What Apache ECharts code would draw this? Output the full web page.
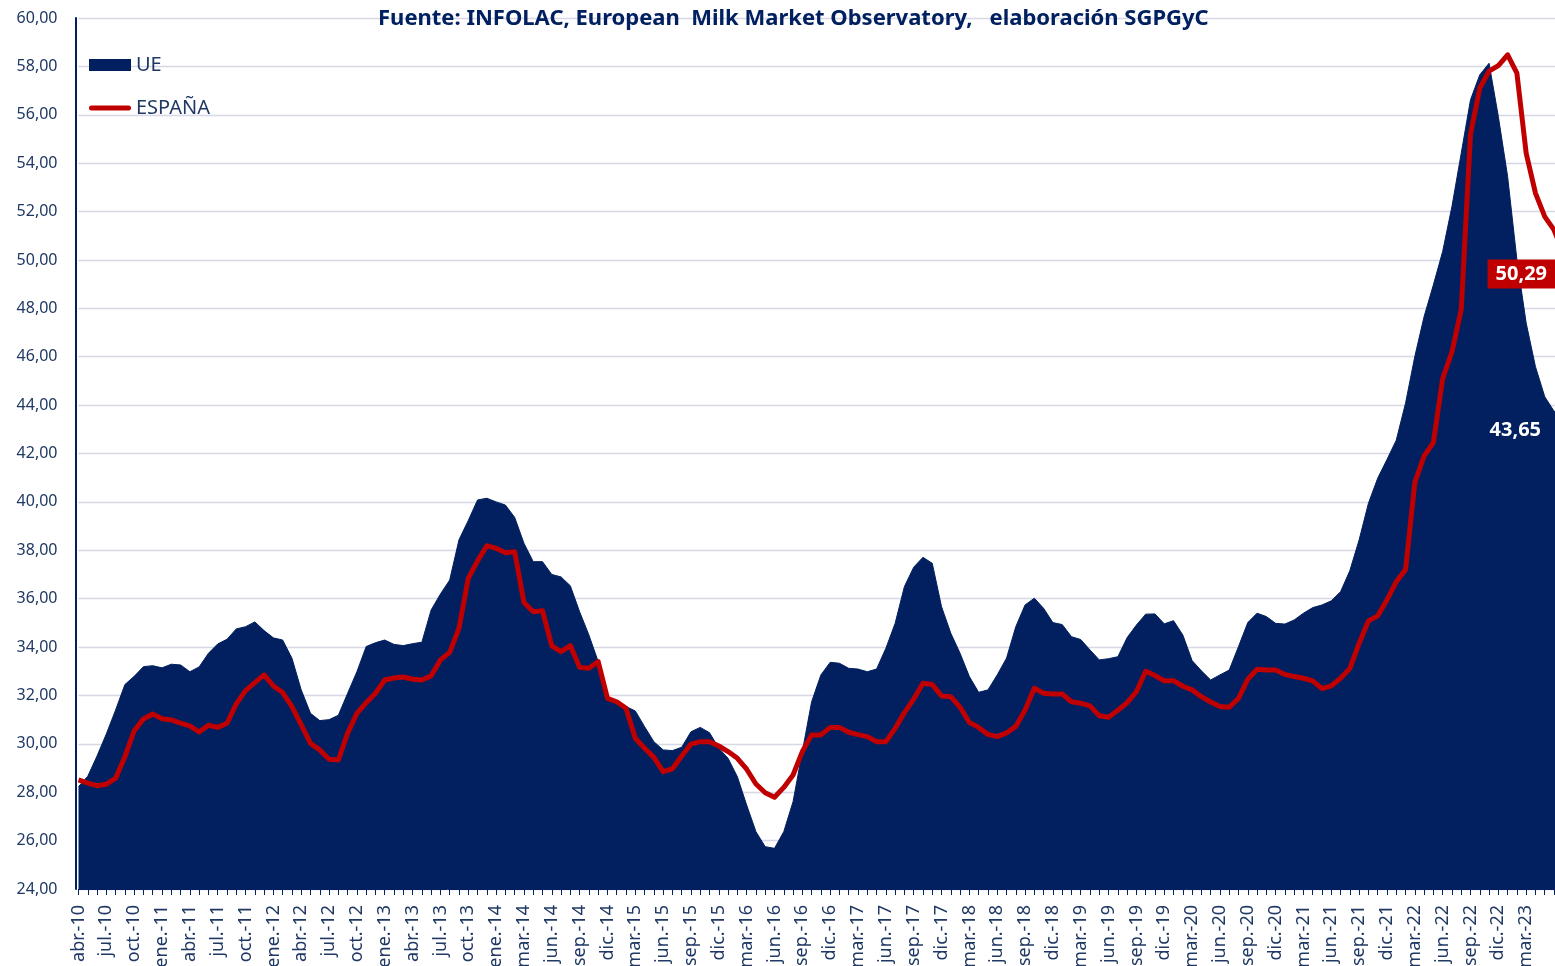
<!DOCTYPE html>
<html>
<head>
<meta charset="utf-8">
<script src="https://cdn.jsdelivr.net/npm/echarts@6/dist/echarts.min.js"></script>
<style>
html,body{margin:0;padding:0;background:#ffffff;overflow:hidden;}
#chart{width:1555px;height:966px;}
</style>
</head>
<body>
<div id="chart"></div>
<script>
// ---- categories (monthly, abr.-10 .. jul.-23; the source repeats one month in early 2014) ----
const monthNames = ['ene.','feb.','mar.','abr.','may.','jun.','jul.','ago.','sep.','oct.','nov.','dic.'];
const firstMonth = {year: 2010, month: 3};
const lastMonth = {year: 2023, month: 6};
const repeatedCategory = 'feb.-14';
const categories = [];
for (let y = firstMonth.year; y <= lastMonth.year; y++) {
  const m0 = (y === firstMonth.year) ? firstMonth.month : 0;
  const m1 = (y === lastMonth.year) ? lastMonth.month : 11;
  for (let m = m0; m <= m1; m++) {
    const lab = monthNames[m] + '-' + String(y).slice(2);
    categories.push(lab);
    if (lab === repeatedCategory) categories.push(lab);
  }
}

// ---- series values (€/100 kg) ----
const ueValues = [
  28.23,28.66,29.50,30.41,31.40,32.45,32.79,33.19,33.23,33.14,
  33.29,33.26,32.98,33.18,33.74,34.13,34.32,34.75,34.84,35.04,
  34.68,34.38,34.29,33.54,32.23,31.26,30.96,31.00,31.18,32.09,
  32.98,34.02,34.18,34.29,34.11,34.06,34.14,34.20,35.53,36.19,
  36.77,38.43,39.23,40.08,40.15,40.00,39.87,39.36,38.29,37.53,
  37.53,37.00,36.90,36.53,35.46,34.50,33.40,31.95,31.74,31.54,
  31.36,30.71,30.09,29.75,29.72,29.86,30.50,30.68,30.46,29.82,
  29.40,28.64,27.47,26.37,25.75,25.68,26.37,27.61,29.68,31.74,
  32.85,33.37,33.33,33.12,33.09,32.98,33.09,33.95,34.98,36.50,
  37.30,37.71,37.46,35.67,34.57,33.74,32.78,32.13,32.23,32.85,
  33.54,34.84,35.74,36.02,35.60,35.01,34.93,34.43,34.31,33.88,
  33.47,33.52,33.60,34.39,34.91,35.36,35.37,34.96,35.09,34.50,
  33.44,33.02,32.64,32.85,33.05,34.02,35.01,35.40,35.26,34.98,
  34.95,35.12,35.40,35.63,35.74,35.91,36.29,37.16,38.43,39.94,
  40.98,41.75,42.55,44.08,46.01,47.66,48.97,50.35,52.21,54.41,
  56.62,57.65,58.13,55.93,53.45,50.01,47.39,45.59,44.35,43.75,
  43.65
];
const espanaValues = [
  28.51,28.38,28.27,28.33,28.58,29.47,30.54,31.03,31.23,31.04,
  30.99,30.86,30.74,30.49,30.77,30.68,30.85,31.65,32.20,32.53,
  32.85,32.39,32.12,31.54,30.78,30.02,29.75,29.36,29.33,30.44,
  31.26,31.70,32.09,32.64,32.72,32.76,32.67,32.64,32.81,33.47,
  33.78,34.78,36.84,37.56,38.19,38.08,37.90,37.94,35.84,35.46,
  35.50,34.05,33.81,34.06,33.16,33.12,33.40,31.88,31.74,31.47,
  30.23,29.82,29.44,28.85,28.97,29.50,29.99,30.09,30.09,29.91,
  29.68,29.40,28.95,28.34,27.98,27.79,28.20,28.71,29.68,30.37,
  30.37,30.68,30.68,30.48,30.38,30.30,30.09,30.09,30.64,31.29,
  31.85,32.50,32.45,31.98,31.95,31.51,30.88,30.68,30.39,30.30,
  30.45,30.72,31.40,32.30,32.09,32.06,32.06,31.74,31.68,31.57,
  31.16,31.10,31.39,31.70,32.16,33.00,32.82,32.61,32.61,32.38,
  32.23,31.95,31.73,31.54,31.51,31.88,32.67,33.08,33.05,33.05,
  32.87,32.78,32.71,32.60,32.28,32.40,32.71,33.12,34.16,35.08,
  35.29,35.95,36.70,37.20,40.80,41.90,42.45,45.10,46.20,47.95,
  55.20,57.10,57.80,58.03,58.48,57.72,54.41,52.76,51.79,51.24,
  50.29
];

// ---- axis ----
const yMin = 24, yMax = 60, yStep = 2;
const xLabelEvery = 3;
const seriesNames = ['UE', 'ESPAÑA'];
const subtitleText = 'Fuente: INFOLAC, European  Milk Market Observatory,   elaboración SGPGyC';

const NAVY = '#02205F';
const RED = '#C00000';
const TEXT = '#1F3864';
const FONT = 'Noto Sans';

function fmt(v){ return v.toFixed(2).replace('.', ','); }

function withLastLabel(values, labelOpt){
  return values.map((v, i) => i === values.length - 1
    ? {value: v, label: Object.assign({show: true, formatter: p => fmt(p.value)}, labelOpt)}
    : v);
}

const chart = echarts.init(document.getElementById('chart'), null, {renderer: 'canvas'});
chart.setOption({
  animation: false,
  backgroundColor: '#ffffff',
  title: {
    text: subtitleText,
    left: 378, top: 8,
    padding: 0,
    textStyle: {fontFamily: FONT, fontSize: 22, fontWeight: 'bold', color: '#002060'}
  },
  legend: {
    orient: 'vertical',
    left: 89, top: 55,
    padding: 0,
    itemWidth: 42, itemHeight: 12, itemGap: 23,
    textStyle: {fontFamily: FONT, fontSize: 20, color: TEXT},
    data: [
      {name: 'UE', icon: 'rect', itemStyle: {color: NAVY}},
      {name: 'ESPAÑA', icon: 'path://M2.5,0 L39.5,0 A2.5,2.5 0 0 1 39.5,5 L2.5,5 A2.5,2.5 0 0 1 2.5,0 Z', itemStyle: {color: RED}}
    ]
  },
  grid: {left: 78.5, top: 18, bottom: 77, right: -8.3, containLabel: false, outerBoundsMode: 'none'},
  xAxis: {
    type: 'category',
    data: categories,
    boundaryGap: false,
    axisLine: {show: true, lineStyle: {color: NAVY, width: 1}},
    axisTick: {show: true, interval: 0, length: 6, lineStyle: {color: NAVY, width: 1}},
    axisLabel: {
      interval: (idx) => idx % xLabelEvery === 0 && idx < categories.length - 2,
      rotate: 90, margin: 16,
      fontFamily: FONT, fontSize: 18, color: TEXT,
      padding: [12, 0, 0, 0]
    },
    splitLine: {show: false}
  },
  yAxis: {
    type: 'value',
    min: yMin, max: yMax, interval: yStep,
    offset: 3,
    axisLine: {show: true, lineStyle: {color: NAVY, width: 2}},
    axisTick: {show: false},
    axisLabel: {margin: 18, fontFamily: FONT, fontSize: 16, color: TEXT, formatter: fmt},
    splitLine: {show: true, lineStyle: {color: '#D6D8E6', width: 1.3}}
  },
  series: [
    {
      name: seriesNames[0],
      type: 'line',
      data: withLastLabel(ueValues, {
        position: 'inside', offset: [-48, 17],
        color: '#ffffff', fontFamily: FONT, fontSize: 20, fontWeight: 'bold'
      }),
      showSymbol: true, symbol: 'circle', symbolSize: 0,
      lineStyle: {color: NAVY, width: 1},
      itemStyle: {color: NAVY},
      areaStyle: {color: NAVY, opacity: 1},
      emphasis: {disabled: true},
      z: 2
    },
    {
      name: seriesNames[1],
      type: 'line',
      data: withLastLabel(espanaValues, {
        position: 'inside', offset: [-42, 21],
        color: '#ffffff', fontFamily: FONT, fontSize: 20, fontWeight: 'bold',
        backgroundColor: RED, padding: [5, 8, 4, 8]
      }),
      showSymbol: true, symbol: 'circle', symbolSize: 0,
      lineStyle: {color: RED, width: 5, join: 'round'},
      itemStyle: {color: RED},
      emphasis: {disabled: true},
      z: 3
    }
  ]
});
</script>
</body>
</html>
